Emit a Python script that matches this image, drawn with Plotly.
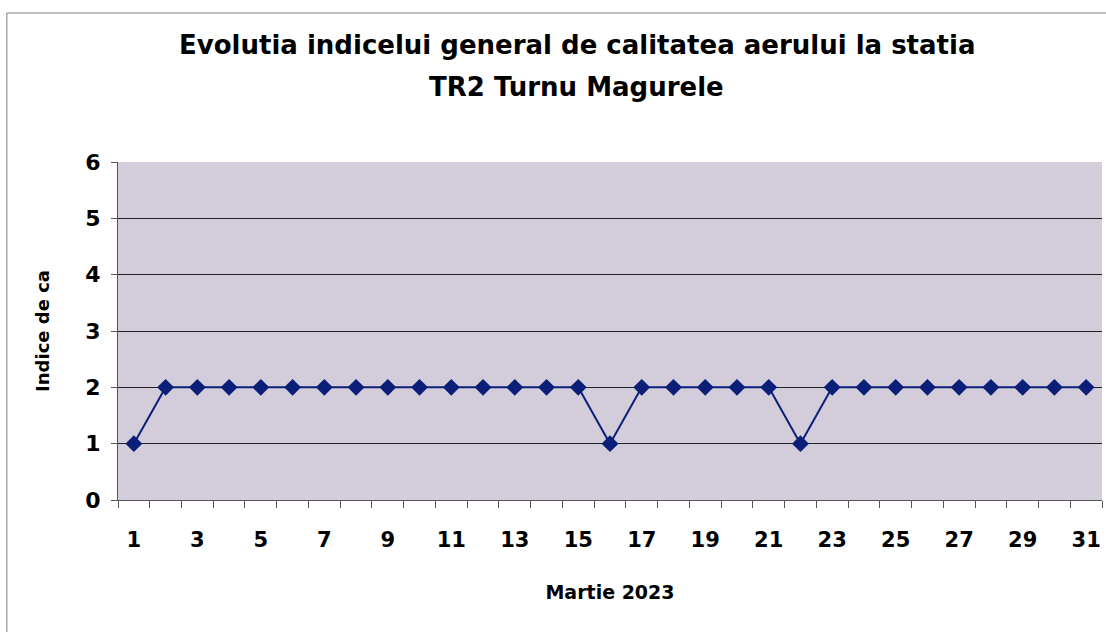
import plotly.graph_objects as go

# Data: daily air quality index, March 2023
days = list(range(1, 32))
indice = [1, 2, 2, 2, 2, 2, 2, 2, 2, 2, 2, 2, 2, 2, 2,
          1, 2, 2, 2, 2, 2,
          1, 2, 2, 2, 2, 2, 2, 2, 2, 2]
x_ticks = list(range(1, 32, 2))
y_ticks = [0, 1, 2, 3, 4, 5, 6]
title_lines = ["Evolutia indicelui general de calitatea aerului la statia",
               "TR2 Turnu Magurele"]

heavy = "DejaVu Sans, Liberation Sans, sans-serif"

fig = go.Figure()
fig.add_trace(go.Scatter(
    x=days, y=indice, mode="lines+markers",
    line=dict(color="#0B1F78", width=2),
    marker=dict(symbol="diamond", size=13, color="#0B1F78"),
    showlegend=False,
))

fig.update_layout(
    width=1106, height=632,
    margin=dict(l=118, r=4, t=162, b=132),
    paper_bgcolor="white",
    plot_bgcolor="#D3CCDB",
    font=dict(family=heavy, color="black"),
    annotations=[
        dict(text=title_lines[0], xref="paper", yref="paper",
             x=0.466, y=1.346, xanchor="center", yanchor="middle",
             showarrow=False, font=dict(size=26, family=heavy, weight="bold")),
        dict(text=title_lines[1], xref="paper", yref="paper",
             x=0.466, y=1.222, xanchor="center", yanchor="middle",
             showarrow=False, font=dict(size=26, family=heavy, weight="bold")),
    ],
    shapes=[
        # outer chart border (left and top edges visible)
        dict(type="line", xref="paper", yref="paper",
             x0=-0.113, x1=1.01, y0=1.441, y1=1.441,
             line=dict(color="#A8A8B0", width=1.5)),
        dict(type="line", xref="paper", yref="paper",
             x0=-0.113, x1=-0.113, y0=1.441, y1=-0.4,
             line=dict(color="#A8A8B0", width=1.5)),
    ],
)

fig.update_xaxes(
    range=[0.5, 31.5], automargin=False,
    tickmode="array", tickvals=x_ticks,
    ticks="", showgrid=False, zeroline=False,
    showline=True, linecolor="#555555", linewidth=1,
    tickfont=dict(size=21, family=heavy, weight="bold"),
    ticklabelstandoff=21,
    minor=dict(tickmode="linear", tick0=0.5, dtick=1, ticks="outside",
               ticklen=7, tickcolor="#555555", showgrid=False),
    title=dict(text="Martie 2023", font=dict(size=19, family=heavy, weight="bold"),
               standoff=34),
)
fig.update_yaxes(
    range=[0, 6], automargin=False,
    tickmode="array", tickvals=y_ticks,
    ticks="outside", ticklen=6, tickcolor="#555555",
    showgrid=True, gridcolor="#222222", gridwidth=1.2,
    zeroline=False,
    showline=True, linecolor="#555555", linewidth=1,
    tickfont=dict(size=22, family=heavy, weight="bold"),
    ticklabelstandoff=6,
    title=dict(text="Indice de ca", font=dict(size=18, family=heavy, weight="bold"),
               standoff=30),
)

fig.write_html("out.html", config={"displayModeBar": False},
               post_script="document.body.style.margin='0';")
